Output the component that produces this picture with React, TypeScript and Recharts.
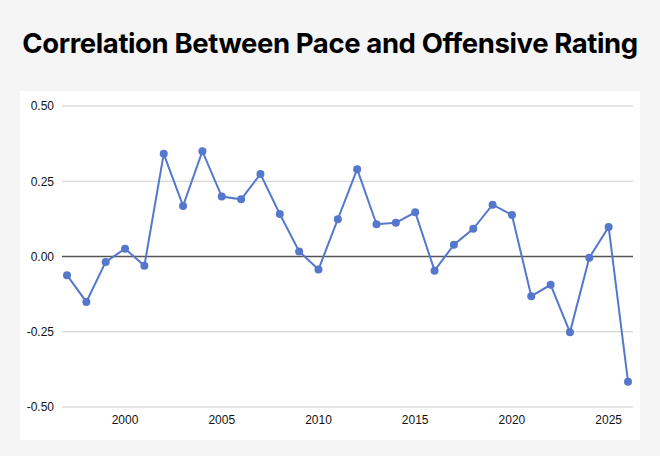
import { LineChart, Line, XAxis, YAxis, CartesianGrid, ReferenceLine } from "recharts";

const years = [
  1997, 1998, 1999, 2000, 2001, 2002, 2003, 2004, 2005, 2006,
  2007, 2008, 2009, 2010, 2011, 2012, 2013, 2014, 2015, 2016,
  2017, 2018, 2019, 2020, 2021, 2022, 2023, 2024, 2025, 2026,
];

const correlation = [
  -0.062, -0.151, -0.018, 0.026, -0.031, 0.341, 0.168, 0.35, 0.199, 0.19,
  0.274, 0.141, 0.017, -0.043, 0.124, 0.29, 0.107, 0.112, 0.147, -0.047,
  0.039, 0.092, 0.172, 0.138, -0.132, -0.094, -0.252, -0.004, 0.098, -0.416,
];

const xTicks = [2000, 2005, 2010, 2015, 2020, 2025];
const yTicks = [-0.5, -0.25, 0, 0.25, 0.5];

const data = years.map((year, i) => ({ year, value: correlation[i] }));

const tickStyle = { fontSize: 12, fill: "#111", fontFamily: "'Liberation Sans', Arial, sans-serif" };

export default function App() {
  return (
    <div
      style={{
        position: "absolute",
        top: 0,
        left: 0,
        width: 660,
        height: 456,
        background: "#f5f5f5",
        overflow: "hidden",
      }}
    >
      <div
        style={{
          position: "absolute",
          top: 25,
          left: 0,
          width: 660,
          textAlign: "center",
          fontFamily: "Inter, sans-serif",
          fontWeight: 700,
          fontSize: 27.5,
          lineHeight: "36px",
          color: "#000",
          letterSpacing: -0.4,
        }}
      >
        Correlation Between Pace and Offensive Rating
      </div>
      <div style={{ position: "absolute", top: 91, left: 20, width: 620, height: 349, background: "#fff" }}>
        <LineChart width={620} height={349} data={data} margin={{ top: 15, right: 7, bottom: 0, left: 0 }}>
          <CartesianGrid vertical={false} stroke="#cccccc" />
          <XAxis
            dataKey="year"
            type="number"
            domain={[1997, 2026]}
            ticks={xTicks}
            padding={{ left: 5, right: 5 }}
            axisLine={false}
            tickLine={false}
            tickSize={0}
            tickMargin={8}
            height={33}
            tick={tickStyle}
          />
          <YAxis
            type="number"
            domain={[-0.5, 0.5]}
            ticks={yTicks}
            tickFormatter={(v: number) => v.toFixed(2)}
            axisLine={false}
            tickLine={false}
            tickSize={0}
            tickMargin={8}
            width={42}
            tick={tickStyle}
          />
          <ReferenceLine y={0} stroke="#555555" strokeWidth={1.5} />
          <Line
            type="linear"
            dataKey="value"
            stroke="#5577cc"
            strokeWidth={2}
            dot={{ r: 4, fill: "#5577cc", stroke: "#5577cc", strokeWidth: 0 }}
            activeDot={false}
            isAnimationActive={false}
          />
        </LineChart>
      </div>
    </div>
  );
}
